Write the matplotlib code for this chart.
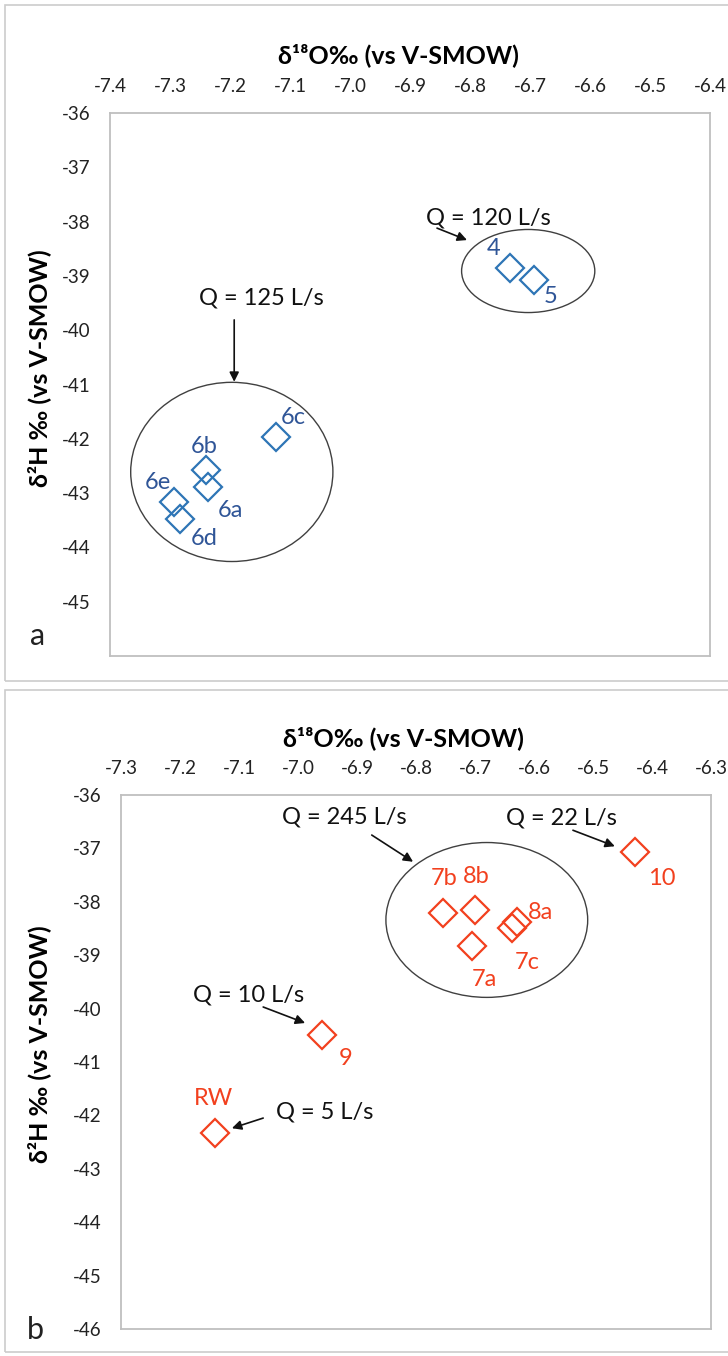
from __future__ import annotations

import matplotlib
matplotlib.use("Agg")
import matplotlib.pyplot as plt
from matplotlib.patches import Ellipse, Rectangle

plt.rcParams["font.family"] = ["Lato", "DejaVu Sans"]

# --- panel a data ---
a_labels = ["4", "5", "6c", "6b", "6a", "6e", "6d"]
a_o18 = [-6.733, -6.693, -7.123, -7.240, -7.237, -7.293, -7.283]
a_h2 = [-38.85, -39.08, -41.97, -42.57, -42.89, -43.16, -43.48]
# label offsets in points (dx, dy)
a_offsets = [(-12, 14), (12, -12), (12, 14), (-1, 17), (16, -17), (-12, 14), (17, -14)]
a_xticks = [-7.4, -7.3, -7.2, -7.1, -7.0, -6.9, -6.8, -6.7, -6.6, -6.5, -6.4]
a_yticks = [-36, -37, -38, -39, -40, -41, -42, -43, -44, -45]
# groups: (x, y, width, height)
a_groups = [(-6.703, -38.91, 0.222, 1.53), (-7.197, -42.61, 0.337, 3.30)]
a_notes = ["Q = 120 L/s", "Q = 125 L/s"]
a_note_xy = [(-6.770, -37.93), (-7.147, -39.41)]
a_arrows = [((-6.855, -38.12), (-6.805, -38.34)), ((-7.193, -39.81), (-7.193, -40.95))]

# --- panel b data ---
b_labels = ["7b", "8b", "7a", "8a", "7c", "10", "9", "RW"]
b_o18 = [-6.754, -6.700, -6.705, -6.629, -6.637, -6.429, -6.959, -7.141]
b_h2 = [-38.21, -38.15, -38.83, -38.38, -38.49, -37.07, -40.49, -42.33]
b_offsets = [(1, 25), (1, 24), (9, -24), (17, 7), (11, -25), (19, -19), (17, -17), (-1, 25)]
b_xticks = [-7.3, -7.2, -7.1, -7.0, -6.9, -6.8, -6.7, -6.6, -6.5, -6.4, -6.3]
b_yticks = [-36, -37, -38, -39, -40, -41, -42, -43, -44, -45, -46]
b_groups = [(-6.680, -38.34, 0.342, 2.90)]
b_notes = ["Q = 245 L/s", "Q = 22 L/s", "Q = 10 L/s", "Q = 5 L/s"]
b_note_xy = [(-6.922, -36.41), (-6.553, -36.43), (-7.083, -39.75), (-6.954, -41.94)]
b_arrows = [((-6.875, -36.75), (-6.805, -37.25)),
            ((-6.534, -36.66), (-6.463, -36.96)),
            ((-7.059, -39.97), (-6.988, -40.27)),
            ((-7.059, -42.05), (-7.112, -42.24))]

BLUE = "#2E75B6"
BLUE_TXT = "#2F5597"
RED = "#F2401E"
XLABEL = "δ¹⁸O‰ (vs V-SMOW)"
YLABEL = "δ²H ‰ (vs V-SMOW)"


def draw_panel(ax, xs, ys, labels, offsets, xticks, yticks, ylim, groups,
               notes, note_xy, arrows, mcolor, tcolor, xlabel_coords, ylabel_coords):
    ax.set_xlim(xticks[0], xticks[-1])
    ax.set_ylim(*ylim)
    ax.xaxis.tick_top()
    ax.xaxis.set_label_position("top")
    ax.set_xticks(xticks)
    ax.set_xticklabels([f"{t:.1f}" for t in xticks])
    ax.set_yticks(yticks)
    ax.set_yticklabels([f"{t:d}" for t in yticks])
    ax.tick_params(length=0, labelsize=13.5, colors="#222222")
    ax.tick_params(axis="x", pad=13)
    ax.tick_params(axis="y", pad=14)
    for sp in ax.spines.values():
        sp.set_color("#BFBFBF")
        sp.set_linewidth(1.3)

    ax.set_xlabel(XLABEL, fontsize=18, fontweight="bold")
    ax.xaxis.set_label_coords(*xlabel_coords)
    ax.set_ylabel(YLABEL, fontsize=18, fontweight="bold")
    ax.yaxis.set_label_coords(*ylabel_coords)

    ax.plot(xs, ys, linestyle="none", marker="D", markersize=14,
            markerfacecolor="none", markeredgecolor=mcolor, markeredgewidth=1.6)
    for x, y, lab, off in zip(xs, ys, labels, offsets):
        ax.annotate(lab, (x, y), xytext=off, textcoords="offset points",
                    ha="center", va="center", fontsize=17, color=tcolor)

    for cx, cy, w, h in groups:
        ax.add_patch(Ellipse((cx, cy), w, h, fill=False, edgecolor="#404040", lw=1.0))

    for txt, (tx, ty) in zip(notes, note_xy):
        ax.text(tx, ty, txt, ha="center", va="center", fontsize=17, color="#111111")
    for tail, head in arrows:
        ax.annotate("", xy=head, xytext=tail,
                    arrowprops=dict(arrowstyle="-|>", color="#111111", lw=1.2,
                                    mutation_scale=14, shrinkA=0, shrinkB=0))


def main() -> int:
    fig = plt.figure(figsize=(7.28, 13.56), dpi=100)

    # panel frames
    fig.patches.append(Rectangle((5 / 728, 1 - 681 / 1356), 730 / 728, 676 / 1356,
                                 transform=fig.transFigure, fill=False,
                                 edgecolor="#CCCCCC", lw=1.2))
    fig.patches.append(Rectangle((5 / 728, 1 - 1352 / 1356), 730 / 728, 662 / 1356,
                                 transform=fig.transFigure, fill=False,
                                 edgecolor="#CCCCCC", lw=1.2))

    ax_a = fig.add_axes([110 / 728, 1 - 656 / 1356, 600 / 728, 543 / 1356])
    draw_panel(ax_a, a_o18, a_h2, a_labels, a_offsets, a_xticks, a_yticks, (-46, -36),
               a_groups, a_notes, a_note_xy, a_arrows, BLUE, BLUE_TXT,
               (0.48, 1.092), (-0.098, 0.53))

    ax_b = fig.add_axes([121 / 728, 1 - 1329 / 1356, 590 / 728, 534 / 1356])
    draw_panel(ax_b, b_o18, b_h2, b_labels, b_offsets, b_xticks, b_yticks, (-46, -36),
               b_groups, b_notes, b_note_xy, b_arrows, RED, RED,
               (0.478, 1.092), (-0.119, 0.534))

    fig.text(38 / 728, 1 - 636 / 1356, "a", fontsize=22, ha="center", va="center", color="#222222")
    fig.text(35 / 728, 1 - 1330 / 1356, "b", fontsize=22, ha="center", va="center", color="#222222")

    fig.savefig("out.png", dpi=100)
    plt.close(fig)
    return 0


if __name__ == "__main__":
    raise SystemExit(main())
